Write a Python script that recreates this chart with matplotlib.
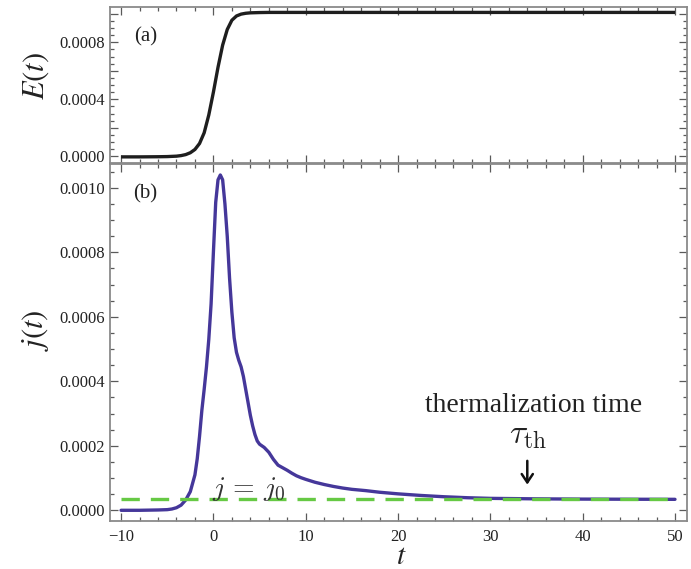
import numpy as np
import matplotlib
matplotlib.use("Agg")
import matplotlib.pyplot as plt
from matplotlib.ticker import MultipleLocator, FuncFormatter

# ---------------- data ----------------
t_E = [-10, -8, -6, -5, -4, -3.5, -3, -2.5, -2, -1.5, -1, -0.5, 0, 0.5, 1,
       1.5, 2, 2.5, 3, 3.5, 4, 5, 6, 8, 10, 20, 30, 40, 50]
E_vals = [-0.000004, -0.000004, -0.000003, -0.000002, 0.000001, 0.000005,
          0.000012, 0.000025, 0.000048, 0.000090, 0.000165, 0.000290,
          0.000450, 0.000625, 0.000780, 0.000890, 0.000955, 0.000985,
          0.000998, 0.001004, 0.001007, 0.001009, 0.00101, 0.00101,
          0.00101, 0.00101, 0.00101, 0.00101, 0.00101]

t_j = [-10, -8, -6, -5, -4.5, -4, -3.5, -3, -2.5, -2, -1.75, -1.5, -1.25, -1,
       -0.75, -0.5, -0.25, 0, 0.25, 0.5, 0.75, 1.0, 1.25, 1.5, 1.75, 2.0,
       2.25, 2.5, 2.75, 3.0, 3.25, 3.5, 3.75, 4.0, 4.25, 4.5, 4.75, 5.0,
       5.5, 6.0, 6.5, 7.0, 7.5, 8.0, 8.5, 9.0, 9.5, 10, 11, 12, 13, 14, 15,
       16.5, 18, 20, 22.5, 25, 27.5, 30, 35, 40, 45, 50]
j_vals = [0.0, 0.0, 0.000001, 0.000002, 0.000004, 0.000008, 0.000016,
          0.000032, 0.000058, 0.000110, 0.000160, 0.000230, 0.000310,
          0.000375, 0.000445, 0.000530, 0.000640, 0.000800, 0.000955,
          0.001025, 0.001040, 0.001025, 0.000950, 0.000850, 0.000720,
          0.000615, 0.000535, 0.000490, 0.000465, 0.000445, 0.000415,
          0.000375, 0.000335, 0.000295, 0.000262, 0.000235, 0.000215,
          0.000205, 0.000195, 0.000180, 0.000158, 0.000140, 0.000132,
          0.000124, 0.000115, 0.000107, 0.000101, 0.000096, 0.000087,
          0.000080, 0.000074, 0.000069, 0.000065, 0.000061, 0.000056,
          0.000051, 0.000046, 0.000042, 0.000039, 0.000037, 0.0000355,
          0.0000347, 0.0000343, 0.000034]

j0 = 0.000034
j0_range = [-10, 50]
tau_th = 34

panel_labels = ["(a)", "(b)"]
E_ticks = [0.0000, 0.0004, 0.0008]
j_ticks = [0.0000, 0.0002, 0.0004, 0.0006, 0.0008, 0.0010]
t_ticks = [-10, 0, 10, 20, 30, 40, 50]

# ---------------- style ----------------
plt.rcParams['font.family'] = ['Liberation Serif', 'DejaVu Serif']
plt.rcParams['mathtext.fontset'] = 'stix'
plt.rcParams['axes.unicode_minus'] = True

txt_col = '#222222'
spine_col = '#8a8a8a'
tick_col = '#5a5a5a'
purple = '#45379a'
green = '#66c944'

fig = plt.figure(figsize=(6.91, 5.69), dpi=100)
ax1 = fig.add_axes([110/691, 1-163/569, 577/691, 156/569])
ax2 = fig.add_axes([110/691, 1-521/569, 577/691, 357/569])

for ax in (ax1, ax2):
    ax.set_xlim(-11.2, 51.3)
    for s in ax.spines.values():
        s.set_color(spine_col)
        s.set_linewidth(1.3)
    ax.tick_params(which='both', direction='in', top=True, right=True,
                   color=tick_col, labelcolor=txt_col, labelsize=12, width=0.9)
    ax.tick_params(which='major', length=5.5)
    ax.tick_params(which='minor', length=3.2)
    ax.tick_params(axis='y', pad=3.5)
    ax.tick_params(axis='x', pad=6.0)
    ax.xaxis.set_major_locator(MultipleLocator(10))
    ax.xaxis.set_minor_locator(MultipleLocator(2))
    ax.yaxis.set_minor_locator(MultipleLocator(0.00005))
    ax.yaxis.set_major_locator(MultipleLocator(0.0002))

# --- top panel ---
ax1.plot(t_E, E_vals, color='#1e1e1e', lw=2.4, solid_capstyle='butt')
ax1.set_ylim(-0.000047, 0.001048)
ax1.yaxis.set_major_formatter(FuncFormatter(
    lambda v, p: f"{v:.4f}" if any(abs(v - e) < 1e-9 for e in E_ticks) else ""))
ax1.tick_params(axis='x', labelbottom=False)
ax1.set_ylabel(r'$E(t)$', fontsize=22, color=txt_col)
ax1.yaxis.set_label_coords(-0.102, 0.56)
ax1.text(0.061, 0.81, panel_labels[0], transform=ax1.transAxes,
         fontsize=15, ha='center', va='center', color=txt_col)

# --- bottom panel ---
ax2.plot(t_j, j_vals, color=purple, lw=2.4, solid_capstyle='round')
ax2.plot(j0_range, [j0, j0], color=green, lw=2.4, dashes=(5.5, 3.3))
ax2.set_ylim(-0.0000332, 0.001074)
ax2.set_yticks(j_ticks)
ax2.set_xticks(t_ticks)
ax2.yaxis.set_minor_locator(MultipleLocator(0.00005))
ax2.xaxis.set_minor_locator(MultipleLocator(2))
ax2.yaxis.set_major_formatter(FuncFormatter(lambda v, p: f"{v:.4f}"))
ax2.set_ylabel(r'$j(t)$', fontsize=22, color=txt_col)
ax2.yaxis.set_label_coords(-0.102, 0.535)
ax2.set_xlabel(r'$t$', fontsize=21, color=txt_col, va='baseline')
ax2.xaxis.set_label_coords(0.505, -0.12)
ax2.text(0.061, 0.916, panel_labels[1], transform=ax2.transAxes,
         fontsize=15, ha='center', va='center', color=txt_col)

ax2.text(3.8, 0.000043, r'$j\,=\,j_0$', fontsize=20, ha='center',
         va='baseline', color='#333333', math_fontfamily='cm')
ax2.text(34.7, 0.000304, 'thermalization time', fontsize=20,
         ha='center', va='baseline', color=txt_col)
ax2.text(34.1, 0.000208, r'$\tau_{\mathrm{th}}$', fontsize=24,
         ha='center', va='baseline', color=txt_col, math_fontfamily='cm')
ax2.annotate('', xy=(tau_th, 0.000071), xytext=(tau_th, 0.000162),
             arrowprops=dict(arrowstyle='->,head_length=0.6,head_width=0.4',
                             color='#111111', lw=1.8))

fig.savefig('out.png', dpi=100)
